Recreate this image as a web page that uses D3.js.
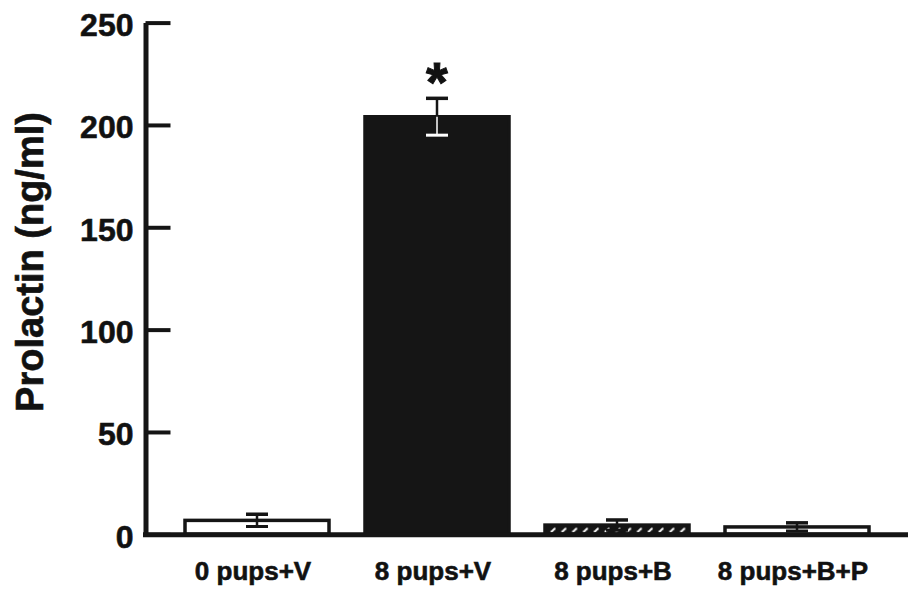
<!DOCTYPE html>
<html>
<head>
<meta charset="utf-8">
<script src="https://cdn.jsdelivr.net/npm/d3@7"></script>
<style>
  body { margin: 0; background: #fff; }
  text { font-family: "Liberation Sans", Arial, sans-serif; font-weight: bold; fill: #111; }
</style>
</head>
<body>
<script>
// data
var groups = ["0 pups+V", "8 pups+V", "8 pups+B", "8 pups+B+P"];
var means = [6.8, 204, 4.5, 3.6];
var errs = [3, 9, 2.5, 2];
var signif = [false, true, false, false];
var yTicks = [0, 50, 100, 150, 200, 250];

var width = 908, height = 592;
var ink = "#151515";

var svg = d3.select("body").append("svg")
	.attr("width", width)
	.attr("height", height);

var x = d3.scaleBand()
	.domain(groups)
	.range([167, 887])
	.paddingInner(0.2)
	.paddingOuter(0.1);

var y = d3.scaleLinear()
	.domain([0, 250])
	.range([534.3, 22.6]);

// hatch for the third bar: black with little white slashes
var defs = svg.append("defs");
var pat = defs.append("pattern")
	.attr("id", "hatch")
	.attr("patternUnits", "userSpaceOnUse")
	.attr("x", x(groups[2]) + 3)
	.attr("y", y(0) - 11)
	.attr("width", 10.8)
	.attr("height", 11);
pat.append("rect").attr("width", 10.8).attr("height", 11).attr("fill", ink);
pat.append("path")
	.attr("d", "M2.5,8.5 L3.5,8.5 L6.5,5.5 L7.5,5.5")
	.attr("stroke", "#fff")
	.attr("stroke-width", 1.8)
	.attr("fill", "none");

var fills = ["#fff", ink, "url(#hatch)", "#fff"];

// bars
svg.selectAll("rect.bar")
	.data(groups)
	.enter()
	.append("rect")
	.attr("class", "bar")
	.attr("x", function(d){ return x(d); })
	.attr("width", x.bandwidth())
	.attr("y", function(d, i){ return y(means[i]); })
	.attr("height", function(d, i){ return y(0) - y(means[i]); })
	.attr("fill", function(d, i){ return fills[i]; })
	.attr("stroke", ink)
	.attr("stroke-width", 3.5);

// error bars (upper half dark, lower half white when inside a black bar)
var capW = 22;
groups.forEach(function(g, i){
	var cx = x(g) + x.bandwidth() / 2;
	var lowCol = i === 1 ? "#fff" : ink;
	svg.append("line")
		.attr("x1", cx).attr("x2", cx)
		.attr("y1", y(means[i] + errs[i])).attr("y2", y(means[i]))
		.attr("stroke", ink).attr("stroke-width", 2.5);
	svg.append("line")
		.attr("x1", cx - capW / 2).attr("x2", cx + capW / 2)
		.attr("y1", y(means[i] + errs[i])).attr("y2", y(means[i] + errs[i]))
		.attr("stroke", ink).attr("stroke-width", 3.5);
	svg.append("line")
		.attr("x1", cx).attr("x2", cx)
		.attr("y1", y(means[i])).attr("y2", y(means[i] - errs[i]))
		.attr("stroke", lowCol).attr("stroke-width", i === 1 ? 1.5 : 2.5);
	svg.append("line")
		.attr("x1", cx - capW / 2).attr("x2", cx + capW / 2)
		.attr("y1", y(means[i] - errs[i])).attr("y2", y(means[i] - errs[i]))
		.attr("stroke", lowCol).attr("stroke-width", 3);
	if (signif[i]) {
		svg.append("text")
			.attr("x", cx)
			.attr("y", y(means[i] + errs[i]) + 3)
			.attr("text-anchor", "middle")
			.style("font-size", "56px")
			.style("stroke", "#111")
			.style("stroke-width", "1px")
			.text("*");
	}
});

// y axis, ticks pointing into the plot
var yAxis = svg.append("g")
	.attr("transform", "translate(145.5,0)")
	.call(d3.axisLeft(y).tickValues(yTicks).tickSize(-25).tickSizeOuter(0).tickPadding(12));
yAxis.select(".domain").attr("stroke", ink).attr("stroke-width", 5);
yAxis.selectAll(".tick line").attr("stroke", ink).attr("stroke-width", 4);
yAxis.selectAll(".tick text")
	.attr("fill", ink)
	.style("font-family", "'Liberation Sans', Arial, sans-serif")
	.style("font-weight", "bold")
	.style("font-size", "32px")
	.style("stroke", ink)
	.style("stroke-width", "0.6px")
	.attr("dy", "0.4em");

// x axis: long baseline plus category names
svg.append("line")
	.attr("x1", 143).attr("x2", width)
	.attr("y1", y(0) + 0.5).attr("y2", y(0) + 0.5)
	.attr("stroke", ink)
	.attr("stroke-width", 5);

var xAxis = svg.append("g")
	.attr("transform", "translate(-4," + y(0) + ")")
	.call(d3.axisBottom(x).tickSize(0).tickPadding(27));
xAxis.select(".domain").remove();
xAxis.selectAll(".tick text")
	.attr("fill", ink)
	.style("font-family", "'Liberation Sans', Arial, sans-serif")
	.style("font-weight", "bold")
	.style("font-size", "26px")
	.style("stroke", ink)
	.style("stroke-width", "0.6px");

// y title
svg.append("text")
	.attr("transform", "translate(43,262) rotate(-90)")
	.attr("text-anchor", "middle")
	.style("font-size", "38px")
	.style("stroke", "#111")
	.style("stroke-width", "0.6px")
	.text("Prolactin (ng/ml)");
</script>
</body>
</html>
